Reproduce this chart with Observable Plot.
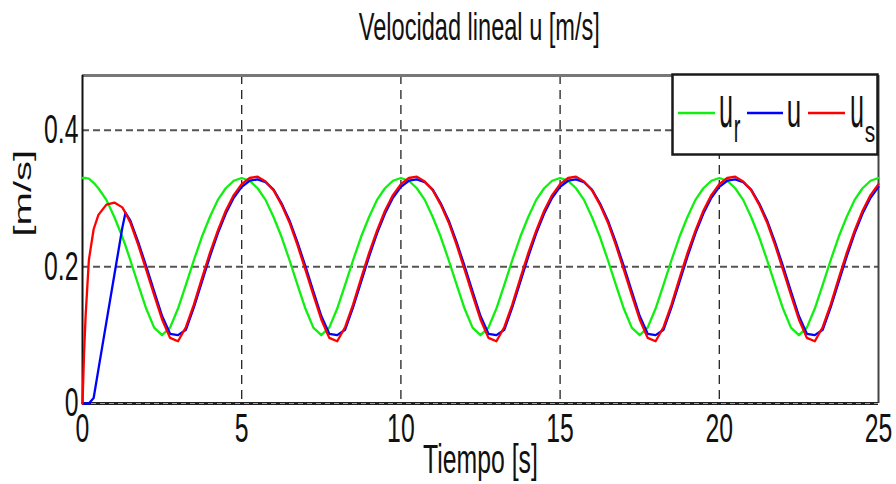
<!DOCTYPE html>
<html>
<head>
<meta charset="utf-8">
<script src="https://cdn.jsdelivr.net/npm/d3@7"></script>
<script src="https://cdn.jsdelivr.net/npm/@observablehq/plot@0.6"></script>
<style>
  body { margin: 0; background: #fff; }
  #grafico { position: relative; width: 896px; height: 484px; font-family: "Liberation Sans", Arial, sans-serif; color: #111; }
  #titulo { height: 58px; box-sizing: border-box; padding-top: 8px; padding-left: 62px; text-align: center; font-size: 38px; line-height: 38px; }
  #titulo span { display: inline-block; white-space: nowrap; transform: scaleX(0.62); transform-origin: center; }
  #leyenda { position: absolute; left: 671px; top: 73px; }
</style>
</head>
<body>
<div id="grafico">
  <div id="titulo"><span>Velocidad lineal u [m/s]</span></div>
</div>
<script>
// Sample instants [s]: a denser start to follow the transient, then every 0.25 s
const tiempo = [0, 0.05, 0.1, 0.2, 0.35, 0.5, 0.75, 1, 1.25, 1.35, ...d3.range(1.5, 25.001, 0.25)];

// Reference linear velocity u_r [m/s]
const ur = [
  0.330, 0.330, 0.330, 0.329, 0.323, 0.315, 0.298, 0.273, 0.244, 0.231,
  0.210, 0.174, 0.139, 0.111, 0.100, 0.111, 0.139, 0.174, 0.210, 0.244, 0.273, 0.298, 0.315, 0.326, 0.330, 0.326, 0.315, 0.298, 0.273, 0.244,
  0.210, 0.174, 0.139, 0.111, 0.100, 0.111, 0.139, 0.174, 0.210, 0.244, 0.273, 0.298, 0.315, 0.326, 0.330, 0.326, 0.315, 0.298, 0.273, 0.244,
  0.210, 0.174, 0.139, 0.111, 0.100, 0.111, 0.139, 0.174, 0.210, 0.244, 0.273, 0.298, 0.315, 0.326, 0.330, 0.326, 0.315, 0.298, 0.273, 0.244,
  0.210, 0.174, 0.139, 0.111, 0.100, 0.111, 0.139, 0.174, 0.210, 0.244, 0.273, 0.298, 0.315, 0.326, 0.330, 0.326, 0.315, 0.298, 0.273, 0.244,
  0.210, 0.174, 0.139, 0.111, 0.100, 0.111, 0.139, 0.174, 0.210, 0.244, 0.273, 0.298, 0.315, 0.326, 0.330
];

// Measured linear velocity u [m/s]
const u = [
  0.000, 0.000, 0.000, 0.000, 0.008, 0.050, 0.119, 0.188, 0.257, 0.279,
  0.268, 0.236, 0.201, 0.164, 0.128, 0.102, 0.100, 0.108, 0.141, 0.178, 0.215, 0.249, 0.278, 0.301, 0.317, 0.326, 0.328, 0.324, 0.313, 0.293,
  0.268, 0.236, 0.201, 0.164, 0.128, 0.102, 0.100, 0.108, 0.141, 0.178, 0.215, 0.249, 0.278, 0.301, 0.317, 0.326, 0.328, 0.324, 0.313, 0.293,
  0.268, 0.236, 0.201, 0.164, 0.128, 0.102, 0.100, 0.108, 0.141, 0.178, 0.215, 0.249, 0.278, 0.301, 0.317, 0.326, 0.328, 0.324, 0.313, 0.293,
  0.268, 0.236, 0.201, 0.164, 0.128, 0.102, 0.100, 0.108, 0.141, 0.178, 0.215, 0.249, 0.278, 0.301, 0.317, 0.326, 0.328, 0.324, 0.313, 0.293,
  0.268, 0.236, 0.201, 0.164, 0.128, 0.102, 0.100, 0.108, 0.141, 0.178, 0.215, 0.249, 0.278, 0.301, 0.317
];

// Commanded linear velocity u_s [m/s]
const us = [
  0.000, 0.075, 0.130, 0.210, 0.255, 0.276, 0.291, 0.294, 0.287, 0.279,
  0.265, 0.232, 0.196, 0.159, 0.123, 0.096, 0.091, 0.112, 0.145, 0.183, 0.220, 0.253, 0.282, 0.305, 0.321, 0.330, 0.332, 0.325, 0.312, 0.291,
  0.265, 0.232, 0.196, 0.159, 0.123, 0.096, 0.091, 0.112, 0.145, 0.183, 0.220, 0.253, 0.282, 0.305, 0.321, 0.330, 0.332, 0.325, 0.312, 0.291,
  0.265, 0.232, 0.196, 0.159, 0.123, 0.096, 0.091, 0.112, 0.145, 0.183, 0.220, 0.253, 0.282, 0.305, 0.321, 0.330, 0.332, 0.325, 0.312, 0.291,
  0.265, 0.232, 0.196, 0.159, 0.123, 0.096, 0.091, 0.112, 0.145, 0.183, 0.220, 0.253, 0.282, 0.305, 0.321, 0.330, 0.332, 0.325, 0.312, 0.291,
  0.265, 0.232, 0.196, 0.159, 0.123, 0.096, 0.091, 0.112, 0.145, 0.183, 0.220, 0.253, 0.282, 0.305, 0.321
];

const xTicks = [0, 5, 10, 15, 20, 25];
const yTicks = [0, 0.2, 0.4];
const yTickLabels = ["0", "0.2", "0.4"];

const series = [
  {nombre: "u", sub: "r", valores: ur, color: "#10f010"},
  {nombre: "u", sub: "",  valores: u,  color: "#0000ff"},
  {nombre: "u", sub: "s", valores: us, color: "#ff0000"}
];

const fuente = '"Liberation Sans", Arial, sans-serif';
const estrechez = 0.62;   // horizontal squeeze of the lettering

const svg = Plot.plot({
  width: 896,
  height: 426,
  marginTop: 17,
  marginBottom: 81,
  marginLeft: 82,
  marginRight: 18,
  style: {fontFamily: fuente, fontSize: "40px", color: "#111", background: "transparent", overflow: "visible"},
  x: {domain: [0, 25], ticks: xTicks, tickSize: 0, tickPadding: 10, label: null, tickFormat: d => String(d)},
  y: {domain: [0, 0.48], ticks: yTicks, tickSize: 0, tickPadding: 4, label: null,
      tickFormat: d => yTickLabels[yTicks.indexOf(d)]},
  marks: [
    Plot.ruleX(xTicks.slice(1, -1), {stroke: "#222", strokeWidth: 1.3, strokeDasharray: "9,6"}),
    Plot.ruleY(yTicks.slice(1), {stroke: "#555", strokeWidth: 2, strokeDasharray: "7,4"}),
    Plot.ruleY([0.48], {stroke: "#777", strokeWidth: 3}),
    Plot.ruleX([25], {stroke: "#444", strokeWidth: 2}),
    Plot.ruleX([0], {stroke: "#111", strokeWidth: 2}),
    Plot.ruleY([0], {stroke: "#222", strokeWidth: 3}),
    Plot.ruleY([0], {stroke: "#a0a0a0", strokeWidth: 1, strokeDasharray: "5,4"}),
    ...series.map(s => Plot.line(s.valores, {x: tiempo, y: s.valores, stroke: s.color, strokeWidth: 2.3})),
    Plot.text(["Tiempo [s]"], {frameAnchor: "bottom", dy: 57, lineAnchor: "middle", fontSize: 40}),
    Plot.text(["[m/s]"], {frameAnchor: "left", dx: -59, dy: -3, rotate: -90, lineAnchor: "middle", fontSize: 40})
  ]
});

// Squeeze every label horizontally about its own anchor point
function estrechar(raiz, s) {
  raiz.querySelectorAll("text").forEach(t => {
    const tr = t.getAttribute("transform") || "";
    const m = tr.match(/translate\(\s*([-\d.e]+)(?:[\s,]+([-\d.e]+))?\s*\)/);
    let X = parseFloat(t.getAttribute("x"));
    if (!isFinite(X) || /em/.test(t.getAttribute("x") || "")) X = 0;
    if (m) X += parseFloat(m[1]) || 0;
    t.setAttribute("transform", `translate(${X},0) scale(${s},1) translate(${-X},0) ${tr}`.trim());
  });
}

const grafico = document.getElementById("grafico");
grafico.appendChild(svg);
estrechar(svg, estrechez);

// Legend box in the upper right corner
const leyenda = d3.select(grafico).append("svg")
  .attr("id", "leyenda").attr("width", 209).attr("height", 84)
  .style("font-family", fuente).style("fill", "#111");
leyenda.append("rect").attr("x", 1.5).attr("y", 1.5).attr("width", 205).attr("height", 80)
  .attr("fill", "#fff").attr("stroke", "#1a1a1a").attr("stroke-width", 2.5);

const trazos = [[7, 44], [76, 112], [137, 174]];
const letras = [
  {cx: 55, size: 60, sx: 0.42},
  {cx: 123, size: 48, sx: 0.54},
  {cx: 186, size: 60, sx: 0.42}
];
const subs = [{cx: 66, size: 40, sx: 0.5}, null, {cx: 199, size: 30, sx: 0.7}];

series.forEach((s, i) => {
  leyenda.append("line").attr("x1", trazos[i][0]).attr("x2", trazos[i][1])
    .attr("y1", 40).attr("y2", 40).attr("stroke", s.color).attr("stroke-width", 2.5);
  const l = letras[i];
  leyenda.append("text").text(s.nombre).attr("text-anchor", "middle")
    .attr("font-size", l.size).attr("transform", `translate(${l.cx},54) scale(${l.sx},1)`);
  if (s.sub) {
    const b = subs[i];
    leyenda.append("text").text(s.sub).attr("text-anchor", "middle")
      .attr("font-size", b.size).attr("transform", `translate(${b.cx},69) scale(${b.sx},1)`);
  }
});
</script>
</body>
</html>
